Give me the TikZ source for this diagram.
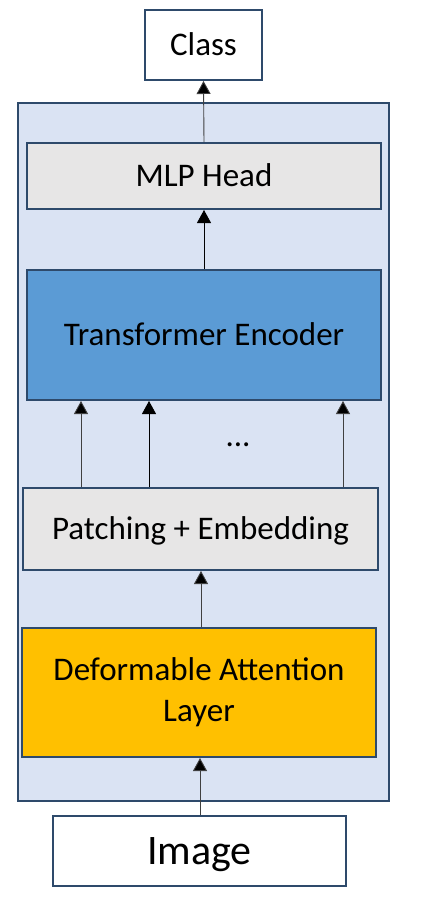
\documentclass[tikz,border=0pt]{standalone}
\usepackage{fontspec}
\setmainfont{Carlito}
\usetikzlibrary{arrows.meta}
\definecolor{edgeblue}{HTML}{2E4A6B}
\definecolor{outerfill}{HTML}{DAE3F3}
\definecolor{boxgray}{HTML}{E7E6E6}
\definecolor{encblue}{HTML}{5B9BD5}
\definecolor{deforange}{HTML}{FFC000}
\definecolor{arrgray}{HTML}{404040}
\tikzset{
  boxnode/.style={draw=edgeblue, line width=2pt, rectangle, inner sep=0pt,
    font=\fontsize{33}{40.3}\selectfont, text height=20.9pt, text depth=0pt},
  flowarrow/.style={-{Triangle[length=13pt,width=14pt,fill=black]}, line width=0.9pt, black},
  grayarrow/.style={flowarrow, draw=arrgray}
}
\begin{document}
\begin{tikzpicture}[x=1pt,y=-1pt]
\useasboundingbox (0,0) rectangle (423,905);
\node[draw=edgeblue, line width=2pt, fill=outerfill, minimum width=371pt, minimum height=698pt, inner sep=0pt] (outer) at (203.5,452) {};
\node[boxnode, fill=white, minimum width=117pt, minimum height=70pt] (cls) at (203.5,45) {Class};
\node[boxnode, fill=boxgray, minimum width=354pt, minimum height=66pt] (mlp) at (204,176) {MLP Head};
\node[boxnode, fill=encblue, minimum width=354pt, minimum height=130pt] (enc) at (204,335) {Transformer Encoder};
\node[boxnode, fill=boxgray, minimum width=355pt, minimum height=82pt] (pat) at (200.5,529) {Patching + Embedding};
\node[draw=edgeblue, line width=2pt, fill=deforange, minimum width=354pt, minimum height=129pt, inner sep=0pt, align=center, font=\fontsize{33}{41}\selectfont] (def) at (199,692.5) {Deformable Attention\\Layer};
\node[boxnode, fill=white, minimum width=293pt, minimum height=70pt, font=\fontsize{42}{50}\selectfont, text height=26.5pt] (img) at (199.5,851) {Image};
\node[font=\fontsize{33}{40}\selectfont, anchor=base, inner sep=0pt] (dots) at (238,446) {...};
\draw[grayarrow] (mlp.north) -- (cls.south);
\draw[flowarrow] (enc.north) -- (mlp.south);
\draw[grayarrow] (pat.north -| 81,0) -- (enc.south -| 81,0);
\draw[flowarrow] (pat.north -| 149,0) -- (enc.south -| 149,0);
\draw[grayarrow] (pat.north -| 343,0) -- (enc.south -| 343,0);
\draw[grayarrow] (def.north -| 201,0) -- (pat.south -| 201,0);
\draw[grayarrow] (img.north -| 200,0) -- (def.south -| 200,0);
\end{tikzpicture}
\end{document}
